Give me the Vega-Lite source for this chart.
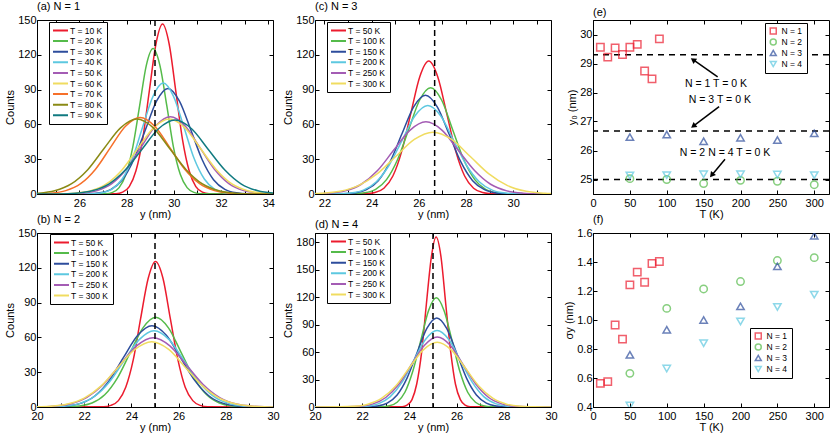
{
  "$schema": "https://vega.github.io/schema/vega-lite/v6.json",
  "padding": {"left": 4, "top": 0, "right": 0, "bottom": 0},
  "datasets": {
    "curves": [
      {"p":"a","T":"T = 10 K","y":24.2,"c":0},{"p":"a","T":"T = 10 K","y":27.55,"c":0.3},{"p":"a","T":"T = 10 K","y":27.83,"c":1.6},{"p":"a","T":"T = 10 K","y":28.11,"c":6.4},{"p":"a","T":"T = 10 K","y":28.39,"c":19.8},{"p":"a","T":"T = 10 K","y":28.68,"c":47.6},{"p":"a","T":"T = 10 K","y":28.96,"c":88.9},{"p":"a","T":"T = 10 K","y":29.24,"c":129.3},{"p":"a","T":"T = 10 K","y":29.52,"c":146.5},{"p":"a","T":"T = 10 K","y":29.80,"c":129.3},{"p":"a","T":"T = 10 K","y":30.08,"c":88.9},{"p":"a","T":"T = 10 K","y":30.36,"c":47.6},{"p":"a","T":"T = 10 K","y":30.65,"c":19.8},{"p":"a","T":"T = 10 K","y":30.93,"c":6.4},{"p":"a","T":"T = 10 K","y":31.21,"c":1.6},{"p":"a","T":"T = 10 K","y":31.49,"c":0.3},{"p":"a","T":"T = 10 K","y":34.2,"c":0},
      {"p":"a","T":"T = 20 K","y":24.2,"c":0},{"p":"a","T":"T = 20 K","y":27.11,"c":0.3},{"p":"a","T":"T = 20 K","y":27.40,"c":1.4},{"p":"a","T":"T = 20 K","y":27.68,"c":5.5},{"p":"a","T":"T = 20 K","y":27.97,"c":17.0},{"p":"a","T":"T = 20 K","y":28.26,"c":40.7},{"p":"a","T":"T = 20 K","y":28.55,"c":76.1},{"p":"a","T":"T = 20 K","y":28.83,"c":110.7},{"p":"a","T":"T = 20 K","y":29.12,"c":125.4},{"p":"a","T":"T = 20 K","y":29.41,"c":110.7},{"p":"a","T":"T = 20 K","y":29.70,"c":76.1},{"p":"a","T":"T = 20 K","y":29.98,"c":40.7},{"p":"a","T":"T = 20 K","y":30.27,"c":17.0},{"p":"a","T":"T = 20 K","y":30.56,"c":5.5},{"p":"a","T":"T = 20 K","y":30.85,"c":1.4},{"p":"a","T":"T = 20 K","y":31.13,"c":0.3},{"p":"a","T":"T = 20 K","y":34.2,"c":0},
      {"p":"a","T":"T = 30 K","y":24.2,"c":0},{"p":"a","T":"T = 30 K","y":26.37,"c":0.2},{"p":"a","T":"T = 30 K","y":26.86,"c":1.0},{"p":"a","T":"T = 30 K","y":27.34,"c":4.0},{"p":"a","T":"T = 30 K","y":27.82,"c":12.3},{"p":"a","T":"T = 30 K","y":28.30,"c":29.5},{"p":"a","T":"T = 30 K","y":28.79,"c":55.2},{"p":"a","T":"T = 30 K","y":29.27,"c":80.3},{"p":"a","T":"T = 30 K","y":29.75,"c":91},{"p":"a","T":"T = 30 K","y":30.23,"c":80.3},{"p":"a","T":"T = 30 K","y":30.72,"c":55.2},{"p":"a","T":"T = 30 K","y":31.20,"c":29.5},{"p":"a","T":"T = 30 K","y":31.68,"c":12.3},{"p":"a","T":"T = 30 K","y":32.16,"c":4.0},{"p":"a","T":"T = 30 K","y":32.65,"c":1.0},{"p":"a","T":"T = 30 K","y":33.13,"c":0.2},{"p":"a","T":"T = 30 K","y":34.2,"c":0},
      {"p":"a","T":"T = 40 K","y":24.2,"c":0},{"p":"a","T":"T = 40 K","y":26.51,"c":0.2},{"p":"a","T":"T = 40 K","y":26.95,"c":1.1},{"p":"a","T":"T = 40 K","y":27.38,"c":4.2},{"p":"a","T":"T = 40 K","y":27.81,"c":12.9},{"p":"a","T":"T = 40 K","y":28.25,"c":31.0},{"p":"a","T":"T = 40 K","y":28.68,"c":58.0},{"p":"a","T":"T = 40 K","y":29.12,"c":84.4},{"p":"a","T":"T = 40 K","y":29.55,"c":95.6},{"p":"a","T":"T = 40 K","y":29.98,"c":84.4},{"p":"a","T":"T = 40 K","y":30.42,"c":58.0},{"p":"a","T":"T = 40 K","y":30.85,"c":31.0},{"p":"a","T":"T = 40 K","y":31.29,"c":12.9},{"p":"a","T":"T = 40 K","y":31.72,"c":4.2},{"p":"a","T":"T = 40 K","y":32.15,"c":1.1},{"p":"a","T":"T = 40 K","y":32.59,"c":0.2},{"p":"a","T":"T = 40 K","y":34.2,"c":0},
      {"p":"a","T":"T = 50 K","y":24.2,"c":0},{"p":"a","T":"T = 50 K","y":25.50,"c":0.1},{"p":"a","T":"T = 50 K","y":26.12,"c":0.7},{"p":"a","T":"T = 50 K","y":26.75,"c":2.9},{"p":"a","T":"T = 50 K","y":27.37,"c":9.0},{"p":"a","T":"T = 50 K","y":27.99,"c":21.6},{"p":"a","T":"T = 50 K","y":28.61,"c":40.4},{"p":"a","T":"T = 50 K","y":29.23,"c":58.8},{"p":"a","T":"T = 50 K","y":29.85,"c":66.6},{"p":"a","T":"T = 50 K","y":30.47,"c":58.8},{"p":"a","T":"T = 50 K","y":31.09,"c":40.4},{"p":"a","T":"T = 50 K","y":31.71,"c":21.6},{"p":"a","T":"T = 50 K","y":32.33,"c":9.0},{"p":"a","T":"T = 50 K","y":32.96,"c":2.9},{"p":"a","T":"T = 50 K","y":33.58,"c":0.7},{"p":"a","T":"T = 50 K","y":34.20,"c":0.1},
      {"p":"a","T":"T = 60 K","y":24.2,"c":0},{"p":"a","T":"T = 60 K","y":25.15,"c":0.1},{"p":"a","T":"T = 60 K","y":25.81,"c":0.7},{"p":"a","T":"T = 60 K","y":26.48,"c":2.8},{"p":"a","T":"T = 60 K","y":27.14,"c":8.7},{"p":"a","T":"T = 60 K","y":27.81,"c":21.0},{"p":"a","T":"T = 60 K","y":28.47,"c":39.2},{"p":"a","T":"T = 60 K","y":29.14,"c":57.0},{"p":"a","T":"T = 60 K","y":29.80,"c":64.6},{"p":"a","T":"T = 60 K","y":30.47,"c":57.0},{"p":"a","T":"T = 60 K","y":31.13,"c":39.2},{"p":"a","T":"T = 60 K","y":31.80,"c":21.0},{"p":"a","T":"T = 60 K","y":32.46,"c":8.7},{"p":"a","T":"T = 60 K","y":33.13,"c":2.8},{"p":"a","T":"T = 60 K","y":33.79,"c":0.7},{"p":"a","T":"T = 60 K","y":34.46,"c":0.1},
      {"p":"a","T":"T = 70 K","y":24.16,"c":0.1},{"p":"a","T":"T = 70 K","y":24.79,"c":0.7},{"p":"a","T":"T = 70 K","y":25.42,"c":2.9},{"p":"a","T":"T = 70 K","y":26.05,"c":8.9},{"p":"a","T":"T = 70 K","y":26.68,"c":21.4},{"p":"a","T":"T = 70 K","y":27.31,"c":40.0},{"p":"a","T":"T = 70 K","y":27.94,"c":58.2},{"p":"a","T":"T = 70 K","y":28.57,"c":66},{"p":"a","T":"T = 70 K","y":29.20,"c":58.2},{"p":"a","T":"T = 70 K","y":29.83,"c":40.0},{"p":"a","T":"T = 70 K","y":30.46,"c":21.4},{"p":"a","T":"T = 70 K","y":31.09,"c":8.9},{"p":"a","T":"T = 70 K","y":31.72,"c":2.9},{"p":"a","T":"T = 70 K","y":32.35,"c":0.7},{"p":"a","T":"T = 70 K","y":32.98,"c":0.1},{"p":"a","T":"T = 70 K","y":34.2,"c":0},
      {"p":"a","T":"T = 80 K","y":23.57,"c":0.1},{"p":"a","T":"T = 80 K","y":24.26,"c":0.7},{"p":"a","T":"T = 80 K","y":24.95,"c":2.8},{"p":"a","T":"T = 80 K","y":25.65,"c":8.7},{"p":"a","T":"T = 80 K","y":26.35,"c":21.0},{"p":"a","T":"T = 80 K","y":27.04,"c":39.2},{"p":"a","T":"T = 80 K","y":27.74,"c":57.0},{"p":"a","T":"T = 80 K","y":28.43,"c":64.6},{"p":"a","T":"T = 80 K","y":29.13,"c":57.0},{"p":"a","T":"T = 80 K","y":29.82,"c":39.2},{"p":"a","T":"T = 80 K","y":30.52,"c":21.0},{"p":"a","T":"T = 80 K","y":31.21,"c":8.7},{"p":"a","T":"T = 80 K","y":31.91,"c":2.8},{"p":"a","T":"T = 80 K","y":32.60,"c":0.7},{"p":"a","T":"T = 80 K","y":33.30,"c":0.1},{"p":"a","T":"T = 80 K","y":34.2,"c":0},
      {"p":"a","T":"T = 90 K","y":24.2,"c":0},{"p":"a","T":"T = 90 K","y":25.14,"c":0.1},{"p":"a","T":"T = 90 K","y":25.84,"c":0.7},{"p":"a","T":"T = 90 K","y":26.54,"c":2.8},{"p":"a","T":"T = 90 K","y":27.24,"c":8.6},{"p":"a","T":"T = 90 K","y":27.94,"c":20.7},{"p":"a","T":"T = 90 K","y":28.65,"c":38.6},{"p":"a","T":"T = 90 K","y":29.35,"c":56.2},{"p":"a","T":"T = 90 K","y":30.05,"c":63.7},{"p":"a","T":"T = 90 K","y":30.75,"c":56.2},{"p":"a","T":"T = 90 K","y":31.45,"c":38.6},{"p":"a","T":"T = 90 K","y":32.16,"c":20.7},{"p":"a","T":"T = 90 K","y":32.86,"c":8.6},{"p":"a","T":"T = 90 K","y":33.56,"c":2.8},{"p":"a","T":"T = 90 K","y":34.26,"c":0.7},{"p":"a","T":"T = 90 K","y":34.96,"c":0.1},

      {"p":"b","T":"T = 50 K","y":20,"c":0},{"p":"b","T":"T = 50 K","y":22.82,"c":0.3},{"p":"b","T":"T = 50 K","y":23.13,"c":1.4},{"p":"b","T":"T = 50 K","y":23.45,"c":5.5},{"p":"b","T":"T = 50 K","y":23.76,"c":17.0},{"p":"b","T":"T = 50 K","y":24.08,"c":40.8},{"p":"b","T":"T = 50 K","y":24.39,"c":76.1},{"p":"b","T":"T = 50 K","y":24.71,"c":110.8},{"p":"b","T":"T = 50 K","y":25.02,"c":125.5},{"p":"b","T":"T = 50 K","y":25.34,"c":110.8},{"p":"b","T":"T = 50 K","y":25.65,"c":76.1},{"p":"b","T":"T = 50 K","y":25.97,"c":40.8},{"p":"b","T":"T = 50 K","y":26.28,"c":17.0},{"p":"b","T":"T = 50 K","y":26.60,"c":5.5},{"p":"b","T":"T = 50 K","y":26.91,"c":1.4},{"p":"b","T":"T = 50 K","y":27.23,"c":0.3},{"p":"b","T":"T = 50 K","y":30,"c":0},
      {"p":"b","T":"T = 100 K","y":20,"c":0},{"p":"b","T":"T = 100 K","y":21.25,"c":0.2},{"p":"b","T":"T = 100 K","y":21.79,"c":0.9},{"p":"b","T":"T = 100 K","y":22.33,"c":3.4},{"p":"b","T":"T = 100 K","y":22.87,"c":10.5},{"p":"b","T":"T = 100 K","y":23.41,"c":25.1},{"p":"b","T":"T = 100 K","y":23.95,"c":46.9},{"p":"b","T":"T = 100 K","y":24.49,"c":68.2},{"p":"b","T":"T = 100 K","y":25.03,"c":77.3},{"p":"b","T":"T = 100 K","y":25.57,"c":68.2},{"p":"b","T":"T = 100 K","y":26.11,"c":46.9},{"p":"b","T":"T = 100 K","y":26.65,"c":25.1},{"p":"b","T":"T = 100 K","y":27.19,"c":10.5},{"p":"b","T":"T = 100 K","y":27.73,"c":3.4},{"p":"b","T":"T = 100 K","y":28.27,"c":0.9},{"p":"b","T":"T = 100 K","y":28.81,"c":0.2},{"p":"b","T":"T = 100 K","y":30,"c":0},
      {"p":"b","T":"T = 150 K","y":20,"c":0},{"p":"b","T":"T = 150 K","y":20.64,"c":0.2},{"p":"b","T":"T = 150 K","y":21.24,"c":0.8},{"p":"b","T":"T = 150 K","y":21.85,"c":3.1},{"p":"b","T":"T = 150 K","y":22.45,"c":9.5},{"p":"b","T":"T = 150 K","y":23.06,"c":22.7},{"p":"b","T":"T = 150 K","y":23.66,"c":42.5},{"p":"b","T":"T = 150 K","y":24.27,"c":61.8},{"p":"b","T":"T = 150 K","y":24.87,"c":70},{"p":"b","T":"T = 150 K","y":25.48,"c":61.8},{"p":"b","T":"T = 150 K","y":26.08,"c":42.5},{"p":"b","T":"T = 150 K","y":26.69,"c":22.7},{"p":"b","T":"T = 150 K","y":27.29,"c":9.5},{"p":"b","T":"T = 150 K","y":27.90,"c":3.1},{"p":"b","T":"T = 150 K","y":28.50,"c":0.8},{"p":"b","T":"T = 150 K","y":29.11,"c":0.2},{"p":"b","T":"T = 150 K","y":30,"c":0},
      {"p":"b","T":"T = 200 K","y":20,"c":0},{"p":"b","T":"T = 200 K","y":20.52,"c":0.1},{"p":"b","T":"T = 200 K","y":21.15,"c":0.7},{"p":"b","T":"T = 200 K","y":21.79,"c":2.9},{"p":"b","T":"T = 200 K","y":22.42,"c":8.9},{"p":"b","T":"T = 200 K","y":23.06,"c":21.4},{"p":"b","T":"T = 200 K","y":23.69,"c":39.9},{"p":"b","T":"T = 200 K","y":24.33,"c":58.1},{"p":"b","T":"T = 200 K","y":24.96,"c":65.8},{"p":"b","T":"T = 200 K","y":25.60,"c":58.1},{"p":"b","T":"T = 200 K","y":26.23,"c":39.9},{"p":"b","T":"T = 200 K","y":26.87,"c":21.4},{"p":"b","T":"T = 200 K","y":27.50,"c":8.9},{"p":"b","T":"T = 200 K","y":28.14,"c":2.9},{"p":"b","T":"T = 200 K","y":28.77,"c":0.7},{"p":"b","T":"T = 200 K","y":29.41,"c":0.1},{"p":"b","T":"T = 200 K","y":30,"c":0},
      {"p":"b","T":"T = 250 K","y":19.99,"c":0.1},{"p":"b","T":"T = 250 K","y":20.69,"c":0.7},{"p":"b","T":"T = 250 K","y":21.40,"c":2.6},{"p":"b","T":"T = 250 K","y":22.10,"c":8.1},{"p":"b","T":"T = 250 K","y":22.81,"c":19.4},{"p":"b","T":"T = 250 K","y":23.51,"c":36.2},{"p":"b","T":"T = 250 K","y":24.22,"c":52.7},{"p":"b","T":"T = 250 K","y":24.92,"c":59.7},{"p":"b","T":"T = 250 K","y":25.63,"c":52.7},{"p":"b","T":"T = 250 K","y":26.33,"c":36.2},{"p":"b","T":"T = 250 K","y":27.04,"c":19.4},{"p":"b","T":"T = 250 K","y":27.74,"c":8.1},{"p":"b","T":"T = 250 K","y":28.45,"c":2.6},{"p":"b","T":"T = 250 K","y":29.15,"c":0.7},{"p":"b","T":"T = 250 K","y":29.86,"c":0.1},{"p":"b","T":"T = 250 K","y":30,"c":0},
      {"p":"b","T":"T = 300 K","y":19.86,"c":0.1},{"p":"b","T":"T = 300 K","y":20.57,"c":0.6},{"p":"b","T":"T = 300 K","y":21.29,"c":2.5},{"p":"b","T":"T = 300 K","y":22.00,"c":7.6},{"p":"b","T":"T = 300 K","y":22.72,"c":18.2},{"p":"b","T":"T = 300 K","y":23.43,"c":34.1},{"p":"b","T":"T = 300 K","y":24.15,"c":49.6},{"p":"b","T":"T = 300 K","y":24.86,"c":56.2},{"p":"b","T":"T = 300 K","y":25.58,"c":49.6},{"p":"b","T":"T = 300 K","y":26.29,"c":34.1},{"p":"b","T":"T = 300 K","y":27.01,"c":18.2},{"p":"b","T":"T = 300 K","y":27.72,"c":7.6},{"p":"b","T":"T = 300 K","y":28.44,"c":2.5},{"p":"b","T":"T = 300 K","y":29.15,"c":0.6},{"p":"b","T":"T = 300 K","y":29.87,"c":0.1},{"p":"b","T":"T = 300 K","y":30,"c":0},

      {"p":"c","T":"T = 50 K","y":21.6,"c":0},{"p":"c","T":"T = 50 K","y":23.76,"c":0.3},{"p":"c","T":"T = 50 K","y":24.14,"c":1.3},{"p":"c","T":"T = 50 K","y":24.52,"c":5.0},{"p":"c","T":"T = 50 K","y":24.90,"c":15.5},{"p":"c","T":"T = 50 K","y":25.28,"c":37.2},{"p":"c","T":"T = 50 K","y":25.66,"c":69.5},{"p":"c","T":"T = 50 K","y":26.04,"c":101.1},{"p":"c","T":"T = 50 K","y":26.42,"c":114.6},{"p":"c","T":"T = 50 K","y":26.80,"c":101.1},{"p":"c","T":"T = 50 K","y":27.18,"c":69.5},{"p":"c","T":"T = 50 K","y":27.56,"c":37.2},{"p":"c","T":"T = 50 K","y":27.94,"c":15.5},{"p":"c","T":"T = 50 K","y":28.32,"c":5.0},{"p":"c","T":"T = 50 K","y":28.70,"c":1.3},{"p":"c","T":"T = 50 K","y":29.08,"c":0.3},{"p":"c","T":"T = 50 K","y":31.6,"c":0},
      {"p":"c","T":"T = 100 K","y":21.6,"c":0},{"p":"c","T":"T = 100 K","y":23.23,"c":0.2},{"p":"c","T":"T = 100 K","y":23.70,"c":1.0},{"p":"c","T":"T = 100 K","y":24.17,"c":4.0},{"p":"c","T":"T = 100 K","y":24.63,"c":12.4},{"p":"c","T":"T = 100 K","y":25.10,"c":29.7},{"p":"c","T":"T = 100 K","y":25.57,"c":55.6},{"p":"c","T":"T = 100 K","y":26.03,"c":80.8},{"p":"c","T":"T = 100 K","y":26.50,"c":91.6},{"p":"c","T":"T = 100 K","y":26.97,"c":80.8},{"p":"c","T":"T = 100 K","y":27.43,"c":55.6},{"p":"c","T":"T = 100 K","y":27.90,"c":29.7},{"p":"c","T":"T = 100 K","y":28.37,"c":12.4},{"p":"c","T":"T = 100 K","y":28.83,"c":4.0},{"p":"c","T":"T = 100 K","y":29.30,"c":1.0},{"p":"c","T":"T = 100 K","y":29.77,"c":0.2},{"p":"c","T":"T = 100 K","y":31.6,"c":0},
      {"p":"c","T":"T = 150 K","y":21.6,"c":0},{"p":"c","T":"T = 150 K","y":22.78,"c":0.2},{"p":"c","T":"T = 150 K","y":23.28,"c":0.9},{"p":"c","T":"T = 150 K","y":23.78,"c":3.7},{"p":"c","T":"T = 150 K","y":24.28,"c":11.5},{"p":"c","T":"T = 150 K","y":24.78,"c":27.7},{"p":"c","T":"T = 150 K","y":25.28,"c":51.7},{"p":"c","T":"T = 150 K","y":25.78,"c":75.2},{"p":"c","T":"T = 150 K","y":26.28,"c":85.2},{"p":"c","T":"T = 150 K","y":26.78,"c":75.2},{"p":"c","T":"T = 150 K","y":27.28,"c":51.7},{"p":"c","T":"T = 150 K","y":27.78,"c":27.7},{"p":"c","T":"T = 150 K","y":28.28,"c":11.5},{"p":"c","T":"T = 150 K","y":28.78,"c":3.7},{"p":"c","T":"T = 150 K","y":29.28,"c":0.9},{"p":"c","T":"T = 150 K","y":29.78,"c":0.2},{"p":"c","T":"T = 150 K","y":31.6,"c":0},
      {"p":"c","T":"T = 200 K","y":21.6,"c":0},{"p":"c","T":"T = 200 K","y":22.55,"c":0.2},{"p":"c","T":"T = 200 K","y":23.10,"c":0.8},{"p":"c","T":"T = 200 K","y":23.65,"c":3.3},{"p":"c","T":"T = 200 K","y":24.19,"c":10.3},{"p":"c","T":"T = 200 K","y":24.74,"c":24.8},{"p":"c","T":"T = 200 K","y":25.29,"c":46.3},{"p":"c","T":"T = 200 K","y":25.83,"c":67.3},{"p":"c","T":"T = 200 K","y":26.38,"c":76.3},{"p":"c","T":"T = 200 K","y":26.93,"c":67.3},{"p":"c","T":"T = 200 K","y":27.47,"c":46.3},{"p":"c","T":"T = 200 K","y":28.02,"c":24.8},{"p":"c","T":"T = 200 K","y":28.57,"c":10.3},{"p":"c","T":"T = 200 K","y":29.11,"c":3.3},{"p":"c","T":"T = 200 K","y":29.66,"c":0.8},{"p":"c","T":"T = 200 K","y":30.21,"c":0.2},{"p":"c","T":"T = 200 K","y":31.6,"c":0},
      {"p":"c","T":"T = 250 K","y":21.51,"c":0.1},{"p":"c","T":"T = 250 K","y":22.19,"c":0.7},{"p":"c","T":"T = 250 K","y":22.88,"c":2.7},{"p":"c","T":"T = 250 K","y":23.56,"c":8.4},{"p":"c","T":"T = 250 K","y":24.25,"c":20.2},{"p":"c","T":"T = 250 K","y":24.93,"c":37.7},{"p":"c","T":"T = 250 K","y":25.62,"c":54.9},{"p":"c","T":"T = 250 K","y":26.30,"c":62.2},{"p":"c","T":"T = 250 K","y":26.99,"c":54.9},{"p":"c","T":"T = 250 K","y":27.67,"c":37.7},{"p":"c","T":"T = 250 K","y":28.36,"c":20.2},{"p":"c","T":"T = 250 K","y":29.04,"c":8.4},{"p":"c","T":"T = 250 K","y":29.73,"c":2.7},{"p":"c","T":"T = 250 K","y":30.41,"c":0.7},{"p":"c","T":"T = 250 K","y":31.10,"c":0.1},{"p":"c","T":"T = 250 K","y":31.6,"c":0},
      {"p":"c","T":"T = 300 K","y":21.07,"c":0.1},{"p":"c","T":"T = 300 K","y":21.86,"c":0.6},{"p":"c","T":"T = 300 K","y":22.65,"c":2.3},{"p":"c","T":"T = 300 K","y":23.44,"c":7.2},{"p":"c","T":"T = 300 K","y":24.23,"c":17.3},{"p":"c","T":"T = 300 K","y":25.02,"c":32.3},{"p":"c","T":"T = 300 K","y":25.81,"c":47.0},{"p":"c","T":"T = 300 K","y":26.60,"c":53.3},{"p":"c","T":"T = 300 K","y":27.39,"c":47.0},{"p":"c","T":"T = 300 K","y":28.18,"c":32.3},{"p":"c","T":"T = 300 K","y":28.97,"c":17.3},{"p":"c","T":"T = 300 K","y":29.76,"c":7.2},{"p":"c","T":"T = 300 K","y":30.55,"c":2.3},{"p":"c","T":"T = 300 K","y":31.34,"c":0.6},{"p":"c","T":"T = 300 K","y":32.13,"c":0.1},

      {"p":"d","T":"T = 50 K","y":20,"c":0},{"p":"d","T":"T = 50 K","y":23.70,"c":0.4},{"p":"d","T":"T = 50 K","y":23.90,"c":2.1},{"p":"d","T":"T = 50 K","y":24.11,"c":8.1},{"p":"d","T":"T = 50 K","y":24.31,"c":25.1},{"p":"d","T":"T = 50 K","y":24.52,"c":60.2},{"p":"d","T":"T = 50 K","y":24.72,"c":112.5},{"p":"d","T":"T = 50 K","y":24.93,"c":163.7},{"p":"d","T":"T = 50 K","y":25.13,"c":185.5},{"p":"d","T":"T = 50 K","y":25.34,"c":163.7},{"p":"d","T":"T = 50 K","y":25.54,"c":112.5},{"p":"d","T":"T = 50 K","y":25.75,"c":60.2},{"p":"d","T":"T = 50 K","y":25.95,"c":25.1},{"p":"d","T":"T = 50 K","y":26.16,"c":8.1},{"p":"d","T":"T = 50 K","y":26.36,"c":2.1},{"p":"d","T":"T = 50 K","y":26.57,"c":0.4},{"p":"d","T":"T = 50 K","y":30,"c":0},
      {"p":"d","T":"T = 100 K","y":20,"c":0},{"p":"d","T":"T = 100 K","y":22.81,"c":0.3},{"p":"d","T":"T = 100 K","y":23.15,"c":1.3},{"p":"d","T":"T = 100 K","y":23.48,"c":5.2},{"p":"d","T":"T = 100 K","y":23.81,"c":16.1},{"p":"d","T":"T = 100 K","y":24.14,"c":38.7},{"p":"d","T":"T = 100 K","y":24.48,"c":72.3},{"p":"d","T":"T = 100 K","y":24.81,"c":105.2},{"p":"d","T":"T = 100 K","y":25.14,"c":119.2},{"p":"d","T":"T = 100 K","y":25.47,"c":105.2},{"p":"d","T":"T = 100 K","y":25.81,"c":72.3},{"p":"d","T":"T = 100 K","y":26.14,"c":38.7},{"p":"d","T":"T = 100 K","y":26.47,"c":16.1},{"p":"d","T":"T = 100 K","y":26.80,"c":5.2},{"p":"d","T":"T = 100 K","y":27.14,"c":1.3},{"p":"d","T":"T = 100 K","y":27.47,"c":0.3},{"p":"d","T":"T = 100 K","y":30,"c":0},
      {"p":"d","T":"T = 150 K","y":20,"c":0},{"p":"d","T":"T = 150 K","y":22.22,"c":0.2},{"p":"d","T":"T = 150 K","y":22.64,"c":1.1},{"p":"d","T":"T = 150 K","y":23.06,"c":4.3},{"p":"d","T":"T = 150 K","y":23.48,"c":13.2},{"p":"d","T":"T = 150 K","y":23.90,"c":31.6},{"p":"d","T":"T = 150 K","y":24.32,"c":59.0},{"p":"d","T":"T = 150 K","y":24.74,"c":85.9},{"p":"d","T":"T = 150 K","y":25.16,"c":97.3},{"p":"d","T":"T = 150 K","y":25.58,"c":85.9},{"p":"d","T":"T = 150 K","y":26.00,"c":59.0},{"p":"d","T":"T = 150 K","y":26.42,"c":31.6},{"p":"d","T":"T = 150 K","y":26.84,"c":13.2},{"p":"d","T":"T = 150 K","y":27.26,"c":4.3},{"p":"d","T":"T = 150 K","y":27.68,"c":1.1},{"p":"d","T":"T = 150 K","y":28.10,"c":0.2},{"p":"d","T":"T = 150 K","y":30,"c":0},
      {"p":"d","T":"T = 200 K","y":20,"c":0},{"p":"d","T":"T = 200 K","y":21.71,"c":0.2},{"p":"d","T":"T = 200 K","y":22.20,"c":0.9},{"p":"d","T":"T = 200 K","y":22.70,"c":3.7},{"p":"d","T":"T = 200 K","y":23.19,"c":11.3},{"p":"d","T":"T = 200 K","y":23.69,"c":27.1},{"p":"d","T":"T = 200 K","y":24.18,"c":50.6},{"p":"d","T":"T = 200 K","y":24.68,"c":73.7},{"p":"d","T":"T = 200 K","y":25.17,"c":83.5},{"p":"d","T":"T = 200 K","y":25.67,"c":73.7},{"p":"d","T":"T = 200 K","y":26.16,"c":50.6},{"p":"d","T":"T = 200 K","y":26.66,"c":27.1},{"p":"d","T":"T = 200 K","y":27.15,"c":11.3},{"p":"d","T":"T = 200 K","y":27.65,"c":3.7},{"p":"d","T":"T = 200 K","y":28.14,"c":0.9},{"p":"d","T":"T = 200 K","y":28.64,"c":0.2},{"p":"d","T":"T = 200 K","y":30,"c":0},
      {"p":"d","T":"T = 250 K","y":20,"c":0},{"p":"d","T":"T = 250 K","y":21.37,"c":0.2},{"p":"d","T":"T = 250 K","y":21.91,"c":0.8},{"p":"d","T":"T = 250 K","y":22.46,"c":3.4},{"p":"d","T":"T = 250 K","y":23.00,"c":10.4},{"p":"d","T":"T = 250 K","y":23.55,"c":24.8},{"p":"d","T":"T = 250 K","y":24.09,"c":46.4},{"p":"d","T":"T = 250 K","y":24.64,"c":67.5},{"p":"d","T":"T = 250 K","y":25.18,"c":76.5},{"p":"d","T":"T = 250 K","y":25.73,"c":67.5},{"p":"d","T":"T = 250 K","y":26.27,"c":46.4},{"p":"d","T":"T = 250 K","y":26.82,"c":24.8},{"p":"d","T":"T = 250 K","y":27.36,"c":10.4},{"p":"d","T":"T = 250 K","y":27.91,"c":3.4},{"p":"d","T":"T = 250 K","y":28.45,"c":0.8},{"p":"d","T":"T = 250 K","y":29.00,"c":0.2},{"p":"d","T":"T = 250 K","y":30,"c":0},
      {"p":"d","T":"T = 300 K","y":20,"c":0},{"p":"d","T":"T = 300 K","y":21.07,"c":0.2},{"p":"d","T":"T = 300 K","y":21.66,"c":0.8},{"p":"d","T":"T = 300 K","y":22.24,"c":3.1},{"p":"d","T":"T = 300 K","y":22.83,"c":9.6},{"p":"d","T":"T = 300 K","y":23.42,"c":23.0},{"p":"d","T":"T = 300 K","y":24.00,"c":42.9},{"p":"d","T":"T = 300 K","y":24.59,"c":62.4},{"p":"d","T":"T = 300 K","y":25.18,"c":70.7},{"p":"d","T":"T = 300 K","y":25.77,"c":62.4},{"p":"d","T":"T = 300 K","y":26.36,"c":42.9},{"p":"d","T":"T = 300 K","y":26.94,"c":23.0},{"p":"d","T":"T = 300 K","y":27.53,"c":9.6},{"p":"d","T":"T = 300 K","y":28.12,"c":3.1},{"p":"d","T":"T = 300 K","y":28.71,"c":0.8},{"p":"d","T":"T = 300 K","y":29.29,"c":0.2},{"p":"d","T":"T = 300 K","y":30,"c":0}
    ],
    "refs": [
      {"p":"a","v":29.2},{"p":"b","v":25.0},{"p":"c","v":26.67},{"p":"d","v":25.0},
      {"p":"e","v":29.3},{"p":"e","v":26.67},{"p":"e","v":25.0}
    ],
    "fits": [
      {"N":"N = 1","T":10,"y0":29.56,"sig":0.563},{"N":"N = 1","T":20,"y0":29.22,"sig":0.575},{"N":"N = 1","T":30,"y0":29.54,"sig":0.965},{"N":"N = 1","T":40,"y0":29.31,"sig":0.868},{"N":"N = 1","T":50,"y0":29.56,"sig":1.242},{"N":"N = 1","T":60,"y0":29.66,"sig":1.33},{"N":"N = 1","T":70,"y0":28.74,"sig":1.26},{"N":"N = 1","T":80,"y0":28.47,"sig":1.39},{"N":"N = 1","T":90,"y0":29.85,"sig":1.404},
      {"N":"N = 2","T":50,"y0":25.03,"sig":0.632},{"N":"N = 2","T":100,"y0":25.0,"sig":1.08},{"N":"N = 2","T":150,"y0":24.86,"sig":1.214},{"N":"N = 2","T":200,"y0":24.97,"sig":1.265},{"N":"N = 2","T":250,"y0":24.94,"sig":1.41},{"N":"N = 2","T":300,"y0":24.82,"sig":1.43},
      {"N":"N = 3","T":50,"y0":26.46,"sig":0.76},{"N":"N = 3","T":100,"y0":26.55,"sig":0.933},{"N":"N = 3","T":150,"y0":26.32,"sig":1.0},{"N":"N = 3","T":200,"y0":26.44,"sig":1.094},{"N":"N = 3","T":250,"y0":26.36,"sig":1.37},{"N":"N = 3","T":300,"y0":26.59,"sig":1.58},
      {"N":"N = 4","T":50,"y0":25.14,"sig":0.41},{"N":"N = 4","T":100,"y0":25.15,"sig":0.665},{"N":"N = 4","T":150,"y0":25.18,"sig":0.84},{"N":"N = 4","T":200,"y0":25.18,"sig":0.99},{"N":"N = 4","T":250,"y0":25.17,"sig":1.09},{"N":"N = 4","T":300,"y0":25.15,"sig":1.175}
    ],
    "arrows": [
      {"id":1,"T":169,"y0":28.54,"T2":135.7,"y02":29.13},
      {"id":2,"T":171,"y0":27.51,"T2":136,"y02":26.84},
      {"id":3,"T":179,"y0":25.7,"T2":161,"y02":25.15}
    ],
    "notes": [
      {"T":166.7,"y0":28.3,"txt":"N = 1 T = 0 K"},
      {"T":172,"y0":27.74,"txt":"N = 3 T = 0 K"},
      {"T":179,"y0":25.93,"txt":"N = 2 N = 4 T = 0 K"}
    ]
  },
  "columns": 3,
  "spacing": {"row": 39, "column": 42},
  "bounds": "flush",
  "concat": [
    {
      "title": "(a) N = 1",
      "width": 236, "height": 174,
      "layer": [
        {"data": {"name": "curves"}, "transform": [{"filter": "datum.p == 'a'"}],
         "mark": {"type": "point", "opacity": 0},
         "encoding": {
           "x": {"field": "y", "type": "quantitative", "scale": {"domain": [24.2, 34.2], "nice": false}, "axis": {"orient": "top", "labels": false, "title": null, "domain": false, "labelPadding": 6, "values": [25,26,27,28,29,30,31,32,33,34]}},
           "y": {"field": "c", "type": "quantitative", "scale": {"domain": [0, 150], "nice": false}, "axis": {"orient": "right", "labels": false, "title": null, "domain": false, "values": [0,30,60,90,120,150]}}
         }},
        {"data": {"name": "curves"}, "transform": [{"filter": "datum.p == 'a'"}],
         "mark": {"type": "line", "interpolate": "monotone", "strokeWidth": 1.5, "clip": true},
         "encoding": {
           "x": {"field": "y", "type": "quantitative", "scale": {"domain": [24.2, 34.2], "nice": false}, "axis": {"title": "y (nm)", "values": [25,26,27,28,29,30,31,32,33,34], "labelExpr": "datum.value % 2 == 0 ? datum.label : ''"}},
           "y": {"field": "c", "type": "quantitative", "scale": {"domain": [0, 150], "nice": false}, "axis": {"title": "Counts", "values": [0,30,60,90,120,150]}},
           "color": {"field": "T", "type": "nominal",
             "scale": {"domain": ["T = 10 K","T = 20 K","T = 30 K","T = 40 K","T = 50 K","T = 60 K","T = 70 K","T = 80 K","T = 90 K"],
                       "range": ["#ec1c2e","#55bb4a","#2d4d9c","#5dc8e0","#a45cb4","#f0dc60","#f6702a","#8a8a14","#107a80"]},
             "legend": {"title": null, "orient": "none", "legendX": 12, "legendY": 2, "symbolType": "M-3,0H3", "symbolSize": 49, "symbolStrokeWidth": 2, "clipHeight": 9, "rowPadding": 1.6, "labelOffset": 8}}
         }},
        {"data": {"name": "refs"}, "transform": [{"filter": "datum.p == 'a'"}],
         "mark": {"type": "rule", "strokeDash": [6, 4], "strokeWidth": 1.5, "color": "black"},
         "encoding": {"x": {"field": "v", "type": "quantitative", "scale": {"domain": [24.2, 34.2], "nice": false}, "axis": null}}}
      ],
      "resolve": {"axis": {"x": "independent", "y": "independent"}}
    },
    {
      "title": "(c) N = 3",
      "width": 236, "height": 174,
      "layer": [
        {"data": {"name": "curves"}, "transform": [{"filter": "datum.p == 'c'"}],
         "mark": {"type": "point", "opacity": 0},
         "encoding": {
           "x": {"field": "y", "type": "quantitative", "scale": {"domain": [21.6, 31.6], "nice": false}, "axis": {"orient": "top", "labels": false, "title": null, "domain": false, "labelPadding": 6, "values": [22,23,24,25,26,27,28,29,30,31]}},
           "y": {"field": "c", "type": "quantitative", "scale": {"domain": [0, 150], "nice": false}, "axis": {"orient": "right", "labels": false, "title": null, "domain": false, "values": [0,30,60,90,120,150]}}
         }},
        {"data": {"name": "curves"}, "transform": [{"filter": "datum.p == 'c'"}],
         "mark": {"type": "line", "interpolate": "monotone", "strokeWidth": 1.5, "clip": true},
         "encoding": {
           "x": {"field": "y", "type": "quantitative", "scale": {"domain": [21.6, 31.6], "nice": false}, "axis": {"title": "y (nm)", "values": [22,23,24,25,26,27,28,29,30,31], "labelExpr": "datum.value % 2 == 0 ? datum.label : ''"}},
           "y": {"field": "c", "type": "quantitative", "scale": {"domain": [0, 150], "nice": false}, "axis": {"title": "Counts", "values": [0,30,60,90,120,150]}},
           "color": {"field": "T", "type": "nominal",
             "scale": {"domain": ["T = 50 K","T = 100 K","T = 150 K","T = 200 K","T = 250 K","T = 300 K"],
                       "range": ["#ec1c2e","#55bb4a","#2d4d9c","#5dc8e0","#a45cb4","#f0dc60"]},
             "legend": {"title": null, "orient": "none", "legendX": 12, "legendY": 2, "symbolType": "M-3,0H3", "symbolSize": 49, "symbolStrokeWidth": 2, "clipHeight": 9, "rowPadding": 1.6, "labelOffset": 8}}
         }},
        {"data": {"name": "refs"}, "transform": [{"filter": "datum.p == 'c'"}],
         "mark": {"type": "rule", "strokeDash": [6, 4], "strokeWidth": 1.5, "color": "black"},
         "encoding": {"x": {"field": "v", "type": "quantitative", "scale": {"domain": [21.6, 31.6], "nice": false}, "axis": null}}}
      ],
      "resolve": {"axis": {"x": "independent", "y": "independent"}}
    },
    {
      "title": "(e)",
      "width": 236, "height": 174,
      "layer": [
        {"data": {"name": "fits"},
         "mark": {"type": "point", "opacity": 0},
         "encoding": {
           "x": {"field": "T", "type": "quantitative", "scale": {"domain": [0, 320], "nice": false}, "axis": {"orient": "top", "labels": false, "title": null, "domain": false, "labelPadding": 6, "values": [0,50,100,150,200,250,300]}},
           "y": {"field": "y0", "type": "quantitative", "scale": {"domain": [24.5, 30.5], "nice": false, "zero": false}, "axis": {"orient": "right", "labels": false, "title": null, "domain": false, "values": [25,26,27,28,29,30]}}
         }},
        {"data": {"name": "refs"}, "transform": [{"filter": "datum.p == 'e'"}],
         "mark": {"type": "rule", "strokeDash": [6, 5], "strokeWidth": 1.5, "color": "black"},
         "encoding": {"y": {"field": "v", "type": "quantitative", "scale": {"domain": [24.5, 30.5], "nice": false, "zero": false}, "axis": null}}},
        {"data": {"name": "fits"},
         "mark": {"type": "point", "filled": false, "strokeWidth": 1.5, "size": 55, "clip": true},
         "encoding": {
           "x": {"field": "T", "type": "quantitative", "scale": {"domain": [0, 320], "nice": false}, "axis": {"title": "T (K)", "values": [0,50,100,150,200,250,300]}},
           "y": {"field": "y0", "type": "quantitative", "scale": {"domain": [24.5, 30.5], "nice": false, "zero": false}, "axis": {"title": "y₀ (nm)", "values": [25,26,27,28,29,30]}},
           "color": {"field": "N", "type": "nominal", "scale": {"domain": ["N = 1","N = 2","N = 3","N = 4"], "range": ["#ec1c2e","#55bb4a","#2d4d9c","#5dc8e0"]},
             "legend": {"title": null, "orient": "none", "legendX": 172, "legendY": 3, "symbolSize": 36, "symbolStrokeWidth": 1.5, "rowPadding": 2, "clipHeight": 8}},
           "shape": {"field": "N", "type": "nominal", "scale": {"domain": ["N = 1","N = 2","N = 3","N = 4"], "range": ["square","circle","triangle-up","triangle-down"]},
             "legend": {"title": null, "orient": "none", "legendX": 172, "legendY": 3, "symbolSize": 36, "symbolStrokeWidth": 1.5, "rowPadding": 2, "clipHeight": 8}}
         }},
        {"data": {"name": "arrows"},
         "mark": {"type": "rule", "strokeWidth": 1.5, "color": "black"},
         "encoding": {
           "x": {"field": "T", "type": "quantitative", "scale": {"domain": [0, 320], "nice": false}, "axis": null},
           "y": {"field": "y0", "type": "quantitative", "scale": {"domain": [24.5, 30.5], "nice": false, "zero": false}, "axis": null},
           "x2": {"field": "T2"}, "y2": {"field": "y02"}
         }},
        {"data": {"name": "arrows"}, "transform": [{"filter": "datum.id == 1"}],
         "mark": {"type": "point", "shape": "triangle-up", "filled": true, "color": "black", "size": 40, "angle": 305, "opacity": 1},
         "encoding": {
           "x": {"field": "T2", "type": "quantitative", "scale": {"domain": [0, 320], "nice": false}, "axis": null},
           "y": {"field": "y02", "type": "quantitative", "scale": {"domain": [24.5, 30.5], "nice": false, "zero": false}, "axis": null}
         }},
        {"data": {"name": "arrows"}, "transform": [{"filter": "datum.id == 2"}],
         "mark": {"type": "point", "shape": "triangle-up", "filled": true, "color": "black", "size": 40, "angle": 233, "opacity": 1},
         "encoding": {
           "x": {"field": "T2", "type": "quantitative", "scale": {"domain": [0, 320], "nice": false}, "axis": null},
           "y": {"field": "y02", "type": "quantitative", "scale": {"domain": [24.5, 30.5], "nice": false, "zero": false}, "axis": null}
         }},
        {"data": {"name": "arrows"}, "transform": [{"filter": "datum.id == 3"}],
         "mark": {"type": "point", "shape": "triangle-up", "filled": true, "color": "black", "size": 40, "angle": 219, "opacity": 1},
         "encoding": {
           "x": {"field": "T2", "type": "quantitative", "scale": {"domain": [0, 320], "nice": false}, "axis": null},
           "y": {"field": "y02", "type": "quantitative", "scale": {"domain": [24.5, 30.5], "nice": false, "zero": false}, "axis": null}
         }},
        {"data": {"name": "notes"},
         "mark": {"type": "text", "fontSize": 10.5, "color": "black"},
         "encoding": {
           "x": {"field": "T", "type": "quantitative", "scale": {"domain": [0, 320], "nice": false}, "axis": null},
           "y": {"field": "y0", "type": "quantitative", "scale": {"domain": [24.5, 30.5], "nice": false, "zero": false}, "axis": null},
           "text": {"field": "txt"}
         }}
      ],
      "resolve": {"axis": {"x": "independent", "y": "independent"}}
    },
    {
      "title": "(b) N = 2",
      "width": 236, "height": 174,
      "layer": [
        {"data": {"name": "curves"}, "transform": [{"filter": "datum.p == 'b'"}],
         "mark": {"type": "point", "opacity": 0},
         "encoding": {
           "x": {"field": "y", "type": "quantitative", "scale": {"domain": [20, 30], "nice": false, "zero": false}, "axis": {"orient": "top", "labels": false, "title": null, "domain": false, "labelPadding": 6, "values": [20,21,22,23,24,25,26,27,28,29,30]}},
           "y": {"field": "c", "type": "quantitative", "scale": {"domain": [0, 150], "nice": false}, "axis": {"orient": "right", "labels": false, "title": null, "domain": false, "values": [0,30,60,90,120,150]}}
         }},
        {"data": {"name": "curves"}, "transform": [{"filter": "datum.p == 'b'"}],
         "mark": {"type": "line", "interpolate": "monotone", "strokeWidth": 1.5, "clip": true},
         "encoding": {
           "x": {"field": "y", "type": "quantitative", "scale": {"domain": [20, 30], "nice": false, "zero": false}, "axis": {"title": "y (nm)", "values": [20,21,22,23,24,25,26,27,28,29,30], "labelExpr": "datum.value % 2 == 0 ? datum.label : ''"}},
           "y": {"field": "c", "type": "quantitative", "scale": {"domain": [0, 150], "nice": false}, "axis": {"title": "Counts", "values": [0,30,60,90,120,150]}},
           "color": {"field": "T", "type": "nominal",
             "scale": {"domain": ["T = 50 K","T = 100 K","T = 150 K","T = 200 K","T = 250 K","T = 300 K"],
                       "range": ["#ec1c2e","#55bb4a","#2d4d9c","#5dc8e0","#a45cb4","#f0dc60"]},
             "legend": {"title": null, "orient": "none", "legendX": 13, "legendY": 1, "symbolType": "M-3,0H3", "symbolSize": 49, "symbolStrokeWidth": 2, "clipHeight": 9, "rowPadding": 1.6, "labelOffset": 8}}
         }},
        {"data": {"name": "refs"}, "transform": [{"filter": "datum.p == 'b'"}],
         "mark": {"type": "rule", "strokeDash": [6, 4], "strokeWidth": 1.5, "color": "black"},
         "encoding": {"x": {"field": "v", "type": "quantitative", "scale": {"domain": [20, 30], "nice": false, "zero": false}, "axis": null}}}
      ],
      "resolve": {"axis": {"x": "independent", "y": "independent"}}
    },
    {
      "title": "(d) N = 4",
      "width": 236, "height": 174,
      "layer": [
        {"data": {"name": "curves"}, "transform": [{"filter": "datum.p == 'd'"}],
         "mark": {"type": "point", "opacity": 0},
         "encoding": {
           "x": {"field": "y", "type": "quantitative", "scale": {"domain": [20, 30], "nice": false, "zero": false}, "axis": {"orient": "top", "labels": false, "title": null, "domain": false, "labelPadding": 6, "values": [20,21,22,23,24,25,26,27,28,29,30]}},
           "y": {"field": "c", "type": "quantitative", "scale": {"domain": [0, 190], "nice": false}, "axis": {"orient": "right", "labels": false, "title": null, "domain": false, "values": [0,30,60,90,120,150,180]}}
         }},
        {"data": {"name": "curves"}, "transform": [{"filter": "datum.p == 'd'"}],
         "mark": {"type": "line", "interpolate": "monotone", "strokeWidth": 1.5, "clip": true},
         "encoding": {
           "x": {"field": "y", "type": "quantitative", "scale": {"domain": [20, 30], "nice": false, "zero": false}, "axis": {"title": "y (nm)", "values": [20,21,22,23,24,25,26,27,28,29,30], "labelExpr": "datum.value % 2 == 0 ? datum.label : ''"}},
           "y": {"field": "c", "type": "quantitative", "scale": {"domain": [0, 190], "nice": false}, "axis": {"title": "Counts", "values": [0,30,60,90,120,150,180]}},
           "color": {"field": "T", "type": "nominal",
             "scale": {"domain": ["T = 50 K","T = 100 K","T = 150 K","T = 200 K","T = 250 K","T = 300 K"],
                       "range": ["#ec1c2e","#55bb4a","#2d4d9c","#5dc8e0","#a45cb4","#f0dc60"]},
             "legend": {"title": null, "orient": "none", "legendX": 12, "legendY": 0, "symbolType": "M-3,0H3", "symbolSize": 49, "symbolStrokeWidth": 2, "clipHeight": 9, "rowPadding": 1.6, "labelOffset": 8}}
         }},
        {"data": {"name": "refs"}, "transform": [{"filter": "datum.p == 'd'"}],
         "mark": {"type": "rule", "strokeDash": [6, 4], "strokeWidth": 1.5, "color": "black"},
         "encoding": {"x": {"field": "v", "type": "quantitative", "scale": {"domain": [20, 30], "nice": false, "zero": false}, "axis": null}}}
      ],
      "resolve": {"axis": {"x": "independent", "y": "independent"}}
    },
    {
      "title": "(f)",
      "width": 236, "height": 174,
      "layer": [
        {"data": {"name": "fits"},
         "mark": {"type": "point", "opacity": 0},
         "encoding": {
           "x": {"field": "T", "type": "quantitative", "scale": {"domain": [0, 320], "nice": false}, "axis": {"orient": "top", "labels": false, "title": null, "domain": false, "labelPadding": 6, "values": [0,50,100,150,200,250,300]}},
           "y": {"field": "sig", "type": "quantitative", "scale": {"domain": [0.4, 1.6], "nice": false, "zero": false}, "axis": {"orient": "right", "labels": false, "title": null, "domain": false, "values": [0.4,0.6,0.8,1.0,1.2,1.4,1.6]}}
         }},
        {"data": {"name": "fits"},
         "mark": {"type": "point", "filled": false, "strokeWidth": 1.5, "size": 55, "clip": true},
         "encoding": {
           "x": {"field": "T", "type": "quantitative", "scale": {"domain": [0, 320], "nice": false}, "axis": {"title": "T (K)", "values": [0,50,100,150,200,250,300]}},
           "y": {"field": "sig", "type": "quantitative", "scale": {"domain": [0.4, 1.6], "nice": false, "zero": false}, "axis": {"title": "σy (nm)", "values": [0.4,0.6,0.8,1.0,1.2,1.4,1.6], "format": ".1f"}},
           "color": {"field": "N", "type": "nominal", "scale": {"domain": ["N = 1","N = 2","N = 3","N = 4"], "range": ["#ec1c2e","#55bb4a","#2d4d9c","#5dc8e0"]},
             "legend": {"title": null, "orient": "none", "legendX": 157, "legendY": 95, "symbolSize": 36, "symbolStrokeWidth": 1.5, "rowPadding": 2, "clipHeight": 8}},
           "shape": {"field": "N", "type": "nominal", "scale": {"domain": ["N = 1","N = 2","N = 3","N = 4"], "range": ["square","circle","triangle-up","triangle-down"]},
             "legend": {"title": null, "orient": "none", "legendX": 157, "legendY": 95, "symbolSize": 36, "symbolStrokeWidth": 1.5, "rowPadding": 2, "clipHeight": 8}}
         }}
      ],
      "resolve": {"axis": {"x": "independent", "y": "independent"}}
    }
  ],
  "resolve": {"scale": {"color": "independent", "shape": "independent"}, "legend": {"color": "independent", "shape": "independent"}},
  "config": {
    "font": "Liberation Sans",
    "view": {"stroke": "black", "strokeWidth": 1},
    "axis": {"grid": false, "domainColor": "black", "domainWidth": 1, "tickColor": "black", "tickSize": -4, "tickWidth": 1, "labelPadding": 5, "labelFontSize": 11, "labelColor": "black", "labelFlush": false, "titleFontSize": 11, "titleFontWeight": "normal", "titleColor": "black", "titlePadding": 0},
    "axisX": {"labelPadding": 7},
    "axisY": {"titlePadding": 2},
    "title": {"fontSize": 11, "fontWeight": "normal", "anchor": "start", "frame": "group", "offset": 2, "color": "black"},
    "legend": {"padding": 4, "strokeColor": "black", "fillColor": "white", "labelFontSize": 8.5, "labelColor": "black", "rowPadding": 1.5, "labelOffset": 4, "symbolSize": 36}
  }
}
